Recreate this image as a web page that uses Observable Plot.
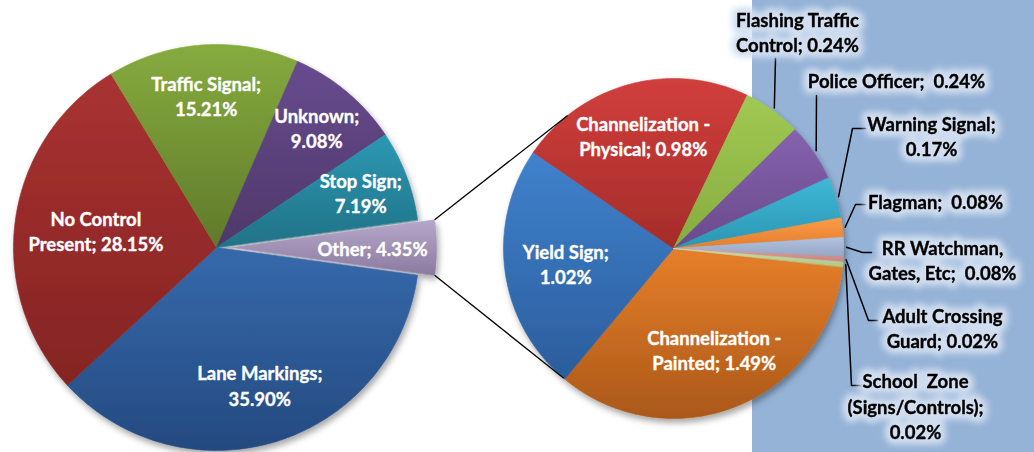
<!DOCTYPE html>
<html><head><meta charset="utf-8">
<script src="https://cdn.jsdelivr.net/npm/d3@7"></script>
<script src="https://cdn.jsdelivr.net/npm/@observablehq/plot@0.6"></script>
<style>
html,body{margin:0;padding:0;background:#fff;overflow:hidden;}
</style></head><body><div id="chart"></div>
<script>
// ---------- data ----------
const mainCategories = ["Lane Markings","No Control Present","Traffic Signal","Unknown","Stop Sign","Other"];
const mainValues = [35.90, 28.15, 15.21, 9.08, 7.19, 4.35];
const mainLabels = ["Lane Markings;\n35.90%","No Control\nPresent; 28.15%","Traffic Signal;\n15.21%","Unknown;\n9.08%","Stop Sign;\n7.19%","Other; 4.35%"];

const otherCategories = ["Channelization - Painted","Yield Sign","Channelization - Physical","Flashing Traffic Control","Police Officer","Warning Signal","Flagman","RR Watchman, Gates, Etc","Adult Crossing Guard","School Zone (Signs/Controls)"];
const otherValues = [1.49, 1.02, 0.98, 0.24, 0.24, 0.17, 0.08, 0.08, 0.02, 0.02];
const otherLabels = ["Channelization -\nPainted; 1.49%","Yield Sign;\n1.02%","Channelization -\nPhysical; 0.98%","Flashing Traffic\nControl; 0.24%","Police Officer;  0.24%","Warning Signal;\n0.17%","Flagman;  0.08%","RR Watchman,\nGates, Etc;  0.08%","Adult Crossing\nGuard; 0.02%","School  Zone\n(Signs/Controls);\n0.02%"];

// ---------- styles ----------
const mainTop    = ["#3669ab","#a93231","#86ab3e","#684b8f","#2d98b3","#b6a8cb"];
const mainBottom = ["#244a80","#842423","#5f7a2a","#4e3868","#1f7287","#8a7a9f"];
const otherTop    = ["#e67f2a","#4082cd","#d13f3c","#a0c953","#8662ae","#3eb8d7","#fb9b49","#b1c3e0","#de9c99","#c9dca3"];
const otherBottom = ["#ab5819","#2b5d9c","#a42c2a","#86ac3e","#694a8c","#2b96b2","#e27e2c","#93a5c4","#c88481","#b0c889"];

// ---------- layout ----------
const W = 1034, H = 452;
const main = {cx: 216, cy: 247, r: 203};
const pie2 = {cx: 673, cy: 248, r: 170, start: 6.2};
const mainExplode = [0,0,0,0,0,17];
const mainLabelR = [0.71,0.60,0.75,0.77,0.76,0.685];
const otherInnerLabelR = [0.64,0.64,0.69];
const outerLabelPos = [null,null,null,[797,31],[896,79],[931,135],[935,200],[942,259],[942,327],[915,405]];
const outerLeaderPts = [null,null,null,
  [[775,58]],
  [[816,95]],
  [[852,128],[865,128]],
  [[855,204],[865,204]],
  [[862,252],[871,252]],
  [[868,320],[877,320]],
  [[851,385],[864,385]]];
const connectAngles = [231.5, 130.2];
const panelX = 752;

const rad = d => d * Math.PI / 180;

function buildPie(values, names, cx, cy, r, start, explode, idPrefix) {
  const total = d3.sum(values);
  let a = start;
  const pts = [], slices = [];
  values.forEach((v, i) => {
    const span = v / total * 360;
    const a0 = a, a1 = a + span; a = a1;
    const mid = (a0 + a1) / 2;
    const off = explode ? explode[i] : 0;
    const ox = cx + off * Math.cos(rad(mid)), oy = cy + off * Math.sin(rad(mid));
    const fill = `url(#${idPrefix}${i})`;
    slices.push({i, name: names[i], a0, a1, mid, ox, oy, fill});
    pts.push({name: names[i], x: ox, y: oy, fill});
    const n = Math.max(2, Math.ceil(span));
    for (let k = 0; k <= n; k++) {
      const t = a0 + span * k / n;
      pts.push({name: names[i], x: ox + r * Math.cos(rad(t)), y: oy + r * Math.sin(rad(t)), fill});
    }
  });
  return {pts, slices};
}

const mainStart = (mainValues[5] / d3.sum(mainValues) * 360) / 2;
const P1 = buildPie(mainValues, mainCategories, main.cx, main.cy, main.r, mainStart, mainExplode, "gm");
const P2 = buildPie(otherValues, otherCategories, pie2.cx, pie2.cy, pie2.r, pie2.start, null, "go");

// labels
const mainLabelData = P1.slices.map(s => ({
  text: mainLabels[s.i],
  x: s.ox + mainLabelR[s.i] * main.r * Math.cos(rad(s.mid)),
  y: s.oy + mainLabelR[s.i] * main.r * Math.sin(rad(s.mid))
}));
const innerLabelData = P2.slices.slice(0, 3).map(s => ({
  text: otherLabels[s.i],
  x: pie2.cx + otherInnerLabelR[s.i] * pie2.r * Math.cos(rad(s.mid)),
  y: pie2.cy + otherInnerLabelR[s.i] * pie2.r * Math.sin(rad(s.mid))
}));
const outerLabelData = P2.slices.slice(3).map(s => ({
  text: otherLabels[s.i], x: outerLabelPos[s.i][0], y: outerLabelPos[s.i][1]
}));
const leaderData = [];
P2.slices.slice(3).forEach(s => {
  const rr = pie2.r + 3;
  leaderData.push({name: s.name, x: pie2.cx + rr * Math.cos(rad(s.mid)), y: pie2.cy + rr * Math.sin(rad(s.mid))});
  outerLeaderPts[s.i].forEach(p => leaderData.push({name: s.name, x: p[0], y: p[1]}));
});

// connectors between the "Other" slice and the second pie
const other = P1.slices[5];
const connData = [other.a0, other.a1].map((a, j) => ({
  x1: other.ox + main.r * Math.cos(rad(a)), y1: other.oy + main.r * Math.sin(rad(a)),
  x2: pie2.cx + pie2.r * Math.cos(rad(connectAngles[j])), y2: pie2.cy + pie2.r * Math.sin(rad(connectAngles[j]))
}));

const font = "Lato, 'Open Sans', sans-serif";
const fs = 18.5;
const lh = 1.36;

const chart = Plot.plot({
  width: W, height: H, margin: 0,
  style: {background: "#fff", fontFamily: font},
  x: {domain: [0, W], range: [0, W], axis: null},
  y: {domain: [0, H], range: [0, H], axis: null},
  color: {type: "identity"},
  marks: [
    Plot.rect([{x1: panelX, x2: W, y1: 0, y2: H}], {x1: "x1", x2: "x2", y1: "y1", y2: "y2", fill: "#95b3d7", inset: 0}),
    Plot.line(P1.pts, {x: "x", y: "y", z: "name", fill: "fill", stroke: "fill", strokeWidth: 0.6, curve: "linear-closed", ariaDescription: "pie1"}),
    Plot.line(P2.pts, {x: "x", y: "y", z: "name", fill: "fill", stroke: "fill", strokeWidth: 0.6, curve: "linear-closed", ariaDescription: "pie2"}),
    Plot.link(connData, {x1: "x1", y1: "y1", x2: "x2", y2: "y2", stroke: "#000", strokeWidth: 1.3}),
    Plot.line(leaderData, {x: "x", y: "y", z: "name", stroke: "#000", strokeWidth: 1.5, curve: "linear"}),
    Plot.text(mainLabelData, {x: "x", y: "y", text: "text", fill: "#fff", stroke: "#fff", strokeWidth: 0.35, fontSize: fs, fontWeight: "bold", lineHeight: lh, textAnchor: "middle"}),
    Plot.text(innerLabelData, {x: "x", y: "y", text: "text", fill: "#fff", stroke: "#fff", strokeWidth: 0.35, fontSize: fs, fontWeight: "bold", lineHeight: lh, textAnchor: "middle"}),
    Plot.text(outerLabelData, {x: "x", y: "y", text: "text", fill: "#d3dff0", stroke: "#d3dff0", strokeWidth: 11, strokeLinejoin: "round", fontSize: fs, fontWeight: "bold", lineHeight: lh, textAnchor: "middle", ariaDescription: "halo"}),
    Plot.text(outerLabelData, {x: "x", y: "y", text: "text", fill: "#000", stroke: "#000", strokeWidth: 0.35, fontSize: fs, fontWeight: "bold", lineHeight: lh, textAnchor: "middle"})
  ]
});

// gradients & filters
const svg = d3.select(chart);
const defs = svg.insert("defs", ":first-child");
function grad(id, c0, c1) {
  const g = defs.append("linearGradient").attr("id", id).attr("x1", 0).attr("y1", 0).attr("x2", 0).attr("y2", 1);
  g.append("stop").attr("offset", "0%").attr("stop-color", c0);
  g.append("stop").attr("offset", "100%").attr("stop-color", c1);
}
mainTop.forEach((c, i) => grad("gm" + i, c, mainBottom[i]));
otherTop.forEach((c, i) => grad("go" + i, c, otherBottom[i]));
const sh = defs.append("filter").attr("id", "shadow").attr("x", "-10%").attr("y", "-10%").attr("width", "130%").attr("height", "130%");
sh.append("feDropShadow").attr("dx", 2).attr("dy", 4).attr("stdDeviation", 3).attr("flood-color", "#000").attr("flood-opacity", 0.35);
const bl = defs.append("filter").attr("id", "blur").attr("x", "-20%").attr("y", "-50%").attr("width", "140%").attr("height", "200%");
bl.append("feGaussianBlur").attr("stdDeviation", 3);
svg.selectAll("g[aria-description=pie1], g[aria-description=pie2]").attr("filter", "url(#shadow)");
svg.selectAll("g[aria-description=halo]").attr("filter", "url(#blur)");

document.getElementById("chart").appendChild(chart);
</script>
</body></html>
